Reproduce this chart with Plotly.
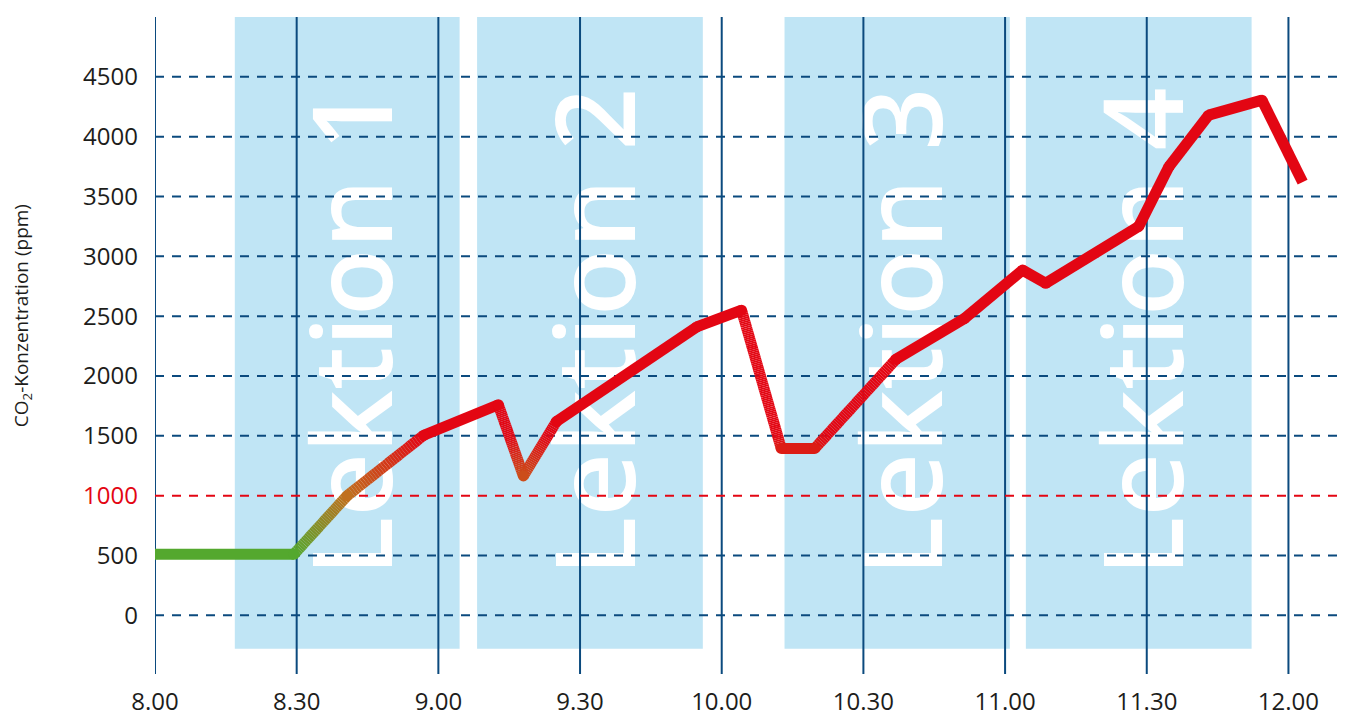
import math
import plotly.graph_objects as go

# ---------------- data ----------------
time_minutes = [0, 29.4, 40.7, 56.9, 72.7, 78.0, 85.0, 114.7, 124.2, 132.6, 139.7,
                156.9, 171.4, 183.7, 188.6, 208.3, 214.7, 223.1, 234.4, 243.0]
co2_ppm = [510, 510, 1000, 1505, 1760, 1165, 1620, 2410, 2550, 1395, 1395,
           2140, 2480, 2885, 2775, 3250, 3750, 4180, 4305, 3620]

x_tick_minutes = [0, 30, 60, 90, 120, 150, 180, 210, 240]
x_tick_labels = ["8.00", "8.30", "9.00", "9.30", "10.00", "10.30", "11.00", "11.30", "12.00"]
y_tick_values = [0, 500, 1000, 1500, 2000, 2500, 3000, 3500, 4000, 4500]
limit_ppm = 1000

lesson_names = ["Lektion 1", "Lektion 2", "Lektion 3", "Lektion 4"]
lesson_start = [16.9, 68.2, 133.3, 184.4]
lesson_end = [64.5, 116.0, 181.0, 232.2]

# ---------------- style ----------------
X_RANGE = [0, 252.4]
Y_RANGE = [-490, 5000]
RECT_BOTTOM = -280
DARK_BLUE = "#0b4a7e"
LIGHT_BLUE = "#c0e5f5"
RED = "#e30613"
TEXT = "#1d1d1b"
FONT = "Open Sans"
LINE_W = 11

color_stops = [(510, (84, 168, 46)), (1000, (192, 112, 30)), (1500, (227, 6, 19))]


def ppm_color(v):
    if v <= color_stops[0][0]:
        c = color_stops[0][1]
    elif v >= color_stops[-1][0]:
        c = color_stops[-1][1]
    else:
        for (v0, c0), (v1, c1) in zip(color_stops[:-1], color_stops[1:]):
            if v0 <= v <= v1:
                t = (v - v0) / (v1 - v0)
                c = tuple(c0[k] + t * (c1[k] - c0[k]) for k in range(3))
                break
    return "rgb(%d,%d,%d)" % tuple(round(a) for a in c)


fig = go.Figure()

# vertical grid lines (solid)
vx, vy = [], []
for t in x_tick_minutes:
    vx += [t, t, None]
    vy += [Y_RANGE[0], Y_RANGE[1], None]
fig.add_trace(go.Scatter(x=vx, y=vy, mode="lines", line=dict(color=DARK_BLUE, width=2),
                         hoverinfo="skip", showlegend=False))

# horizontal dashed grid lines
for color, vals in [(DARK_BLUE, [v for v in y_tick_values if v != limit_ppm]), (RED, [limit_ppm])]:
    hx, hy = [], []
    for v in vals:
        hx += [X_RANGE[0], X_RANGE[1], None]
        hy += [v, v, None]
    fig.add_trace(go.Scatter(x=hx, y=hy, mode="lines",
                             line=dict(color=color, width=2, dash="9px,8px"),
                             hoverinfo="skip", showlegend=False))

# CO2 line with vertical colour gradient
for i in range(len(time_minutes) - 1):
    xa, xb = time_minutes[i], time_minutes[i + 1]
    ya, yb = co2_ppm[i], co2_ppm[i + 1]
    if min(ya, yb) >= color_stops[-1][0]:
        n = 1
    else:
        n = max(1, math.ceil(abs(yb - ya) / 15))
    for k in range(n):
        t0, t1 = k / n, (k + 1) / n
        px = [xa + t0 * (xb - xa), xa + t1 * (xb - xa)]
        py = [ya + t0 * (yb - ya), ya + t1 * (yb - ya)]
        fig.add_trace(go.Scatter(x=px, y=py, mode="lines",
                                 line=dict(color=ppm_color((py[0] + py[1]) / 2), width=LINE_W),
                                 hoverinfo="skip", showlegend=False))

# round joints at interior vertices
fig.add_trace(go.Scatter(x=time_minutes[1:-1], y=co2_ppm[1:-1], mode="markers",
                         marker=dict(size=LINE_W, color=[ppm_color(v) for v in co2_ppm[1:-1]],
                                     line=dict(width=0)),
                         hoverinfo="skip", showlegend=False))

# overlay axis carrying the lesson labels (drawn below traces)
lesson_centers = [(a + b) / 2 for a, b in zip(lesson_start, lesson_end)]
fig.add_trace(go.Scatter(x=lesson_centers, y=[None] * len(lesson_centers), xaxis="x2",
                         mode="markers", hoverinfo="skip", showlegend=False))

shapes = []
for a, b in zip(lesson_start, lesson_end):
    shapes.append(dict(type="rect", xref="x", yref="y", x0=a, x1=b, y0=RECT_BOTTOM, y1=Y_RANGE[1],
                       fillcolor=LIGHT_BLUE, line=dict(width=0), layer="below"))

y_tick_text = ["<span style='color:%s'>%d</span>" % (RED, v) if v == limit_ppm else str(v)
               for v in y_tick_values]

# the page body has an 8px default margin, so the figure is sized/offset for it
fig.update_layout(
    width=1343, height=703,
    margin=dict(l=147, r=4, t=9, b=37, autoexpand=False),
    paper_bgcolor="white", plot_bgcolor="white",
    showlegend=False,
    font=dict(family=FONT, color=TEXT),
    shapes=shapes,
    xaxis=dict(range=X_RANGE, tickmode="array", tickvals=x_tick_minutes, ticktext=x_tick_labels,
               showgrid=False, zeroline=False, showline=False, ticks="", automargin=False,
               tickfont=dict(size=24, color=TEXT, family=FONT), ticklabelstandoff=11),
    xaxis2=dict(range=X_RANGE, overlaying="x", side="top", tickmode="array",
                tickvals=lesson_centers, ticktext=lesson_names, tickangle=-90,
                ticklabelposition="inside", ticklabelstandoff=7, ticklabelshift=9,
                ticklabeloverflow="allow", automargin=False,
                tickfont=dict(size=110, color="white", family=FONT, weight=600),
                showgrid=False, zeroline=False, showline=False, ticks="", layer="below traces"),
    yaxis=dict(range=Y_RANGE, tickmode="array", tickvals=y_tick_values, ticktext=y_tick_text,
               showgrid=False, zeroline=False, showline=False, ticks="", automargin=False,
               tickfont=dict(size=24, color=TEXT, family=FONT), ticklabelstandoff=16),
    annotations=[dict(text="CO<sub>2</sub>-Konzentration (ppm)", xref="paper", yref="y",
                      x=-133 / 1192, y=2500, textangle=-90, showarrow=False,
                      xanchor="center", yanchor="middle",
                      font=dict(size=19, color=TEXT, family=FONT))],
)

fig.write_html("out.html")
